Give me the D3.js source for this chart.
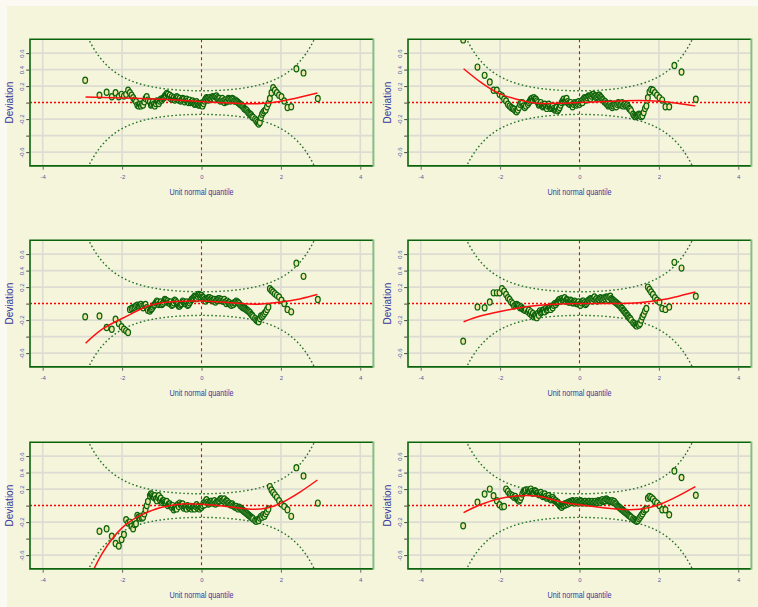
<!DOCTYPE html>
<html>
<head>
<meta charset="utf-8">
<script src="https://cdn.jsdelivr.net/npm/d3@7"></script>
<style>
  html, body { margin: 0; padding: 0; background: #FAFAF3; }
  svg { display: block; }
  text { font-family: "Liberation Sans", Arial, sans-serif; }
</style>
</head>
<body>
<svg id="chart" width="758" height="607"></svg>
<script>
// Unit normal quantiles of the ordered residuals (shared by every panel)
const quantiles = [
  -2.93, -2.57, -2.39, -2.26, -2.165, -2.083, -2.014, -1.953, -1.899, -1.849, -1.804, -1.762, -1.722,
  -1.685, -1.65, -1.617, -1.585, -1.555, -1.526, -1.498, -1.47, -1.44, -1.41, -1.38, -1.35,
  -1.3, -1.275, -1.25, -1.225, -1.2, -1.175, -1.15, -1.125, -1.1, -1.075, -1.05, -1.025, -1, -0.975,
  -0.95, -0.925, -0.9, -0.875, -0.85, -0.825, -0.8, -0.775, -0.75, -0.725, -0.7, -0.675, -0.65, -0.625,
  -0.6, -0.575, -0.55, -0.525, -0.5, -0.475, -0.45, -0.425, -0.4, -0.375, -0.35, -0.325, -0.3, -0.275,
  -0.25, -0.225, -0.2, -0.175, -0.15, -0.125, -0.1, -0.075, -0.05, -0.025, 0, 0.025, 0.05, 0.075, 0.1,
  0.125, 0.15, 0.175, 0.2, 0.225, 0.25, 0.275, 0.3, 0.325, 0.35, 0.375, 0.4, 0.425, 0.45, 0.475, 0.5,
  0.525, 0.55, 0.575, 0.6, 0.625, 0.65, 0.675, 0.7, 0.725, 0.75, 0.775, 0.8, 0.825, 0.85, 0.875, 0.9,
  0.925, 0.95, 0.975, 1, 1.025, 1.05, 1.075, 1.1, 1.125, 1.15, 1.175, 1.2, 1.225, 1.25, 1.275, 1.3,
  1.35, 1.38, 1.41, 1.44, 1.47, 1.498, 1.526, 1.555, 1.585, 1.617, 1.65, 1.685, 1.722,
  1.762, 1.804, 1.849, 1.899, 1.953, 2.014, 2.083, 2.165, 2.26, 2.39, 2.57, 2.93
];

// Deviations (empirical minus theoretical quantile) for each panel
const devPanel1 = [
  0.27, 0.09, 0.125, 0.07, 0.12, 0.07, 0.10, 0.08, 0.10, 0.15, 0.12, 0.09, 0.06, 0.03, 0.01, -0.03, -0.04, -0.02, -0.04, -0.02, -0.03, 0.01, 0.05, 0.07, 0.03,
  0.01, -0.03, -0.02, 0.01, -0.02, -0.04, -0.01, 0.02, 0.01, -0.01, 0.02, 0.04, 0.03, 0.05, 0.06, 0.08, 0.09, 0.11, 0.10, 0.07, 0.09, 0.05,
  0.07, 0.04, 0.06, 0.03, 0.05, 0.07, 0.06, 0.03, 0.05, 0.02, 0.03, 0.05, 0.04, 0.01, 0.03, 0.04, 0.02, 0.00, 0.03, 0.00, 0.01, 0.02,
  0.00, -0.02, -0.01, 0.01, -0.01, -0.03, -0.03, -0.01, -0.03, -0.04, -0.01, 0.02, 0.04, 0.06, 0.05, 0.03, 0.06, 0.04, 0.05, 0.07,
  0.06, 0.04, 0.07, 0.08, 0.06, 0.04, 0.05, 0.02, 0.03, 0.05, 0.02, 0.00, 0.03, 0.01, 0.02, 0.05, 0.04, 0.02, 0.04, 0.05, 0.04, 0.02,
  0.03, 0.02, 0.01, 0.00, -0.01, -0.02, -0.03, -0.04, -0.05, -0.07, -0.08, -0.09, -0.10, -0.12, -0.13, -0.14, -0.15, -0.17, -0.18,
  -0.20, -0.22, -0.24, -0.26, -0.24, -0.18, -0.14, -0.12, -0.10, -0.09, -0.05, -0.01, 0.05, 0.12, 0.18, 0.15, 0.12, 0.09, 0.07, 0.02, -0.06, -0.05, 0.41, 0.36, 0.05
];
const devPanel2 = [
  0.76, 0.43, 0.33, 0.25, 0.15, 0.15, 0.10, 0.08, 0.04, 0.02, -0.02, -0.04, -0.06, -0.07, -0.08, -0.10, -0.11, -0.09, -0.06, -0.02, 0.00, 0.00, -0.04, -0.06, -0.04,
  -0.02, 0.00, 0.02, 0.04, 0.05, 0.03, 0.06, 0.04, 0.04, 0.02, 0.00, -0.03, -0.02, 0.00, -0.03, -0.05, -0.04, -0.02, -0.05, -0.07,
  -0.04, -0.02, -0.05, -0.07, -0.06, -0.04, -0.07, -0.09, -0.08, -0.06, -0.10, -0.08, -0.06, -0.03, 0.00, 0.02, 0.04, 0.01, 0.03, 0.05,
  0.01, -0.01, -0.02, 0.00, -0.03, -0.05, -0.02, 0.00, -0.01, -0.03, -0.01, 0.01, -0.02, 0.00, 0.02, 0.00, 0.04, 0.06, 0.05, 0.03,
  0.06, 0.08, 0.07, 0.05, 0.08, 0.10, 0.10, 0.08, 0.08, 0.06, 0.07, 0.09, 0.09, 0.07, 0.06, 0.04, 0.03, 0.01, 0.01, -0.01, -0.02, -0.04,
  -0.03, -0.01, -0.04, -0.06, -0.04, -0.02, -0.03, -0.05, -0.02, 0.00, -0.01, -0.03, -0.02, 0.00, -0.04, -0.02, -0.02, -0.04, -0.03, -0.05,
  -0.07, -0.08, -0.10,
  -0.14, -0.16, -0.17, -0.16, -0.15, -0.14, -0.15, -0.17, -0.16, -0.12, -0.07, -0.04, 0.06, 0.13, 0.16, 0.15, 0.12, 0.09, 0.06, 0.03, -0.05, -0.05, 0.45, 0.37, 0.04
];
const devPanel3 = [
  -0.16, -0.15, -0.29, -0.31, -0.19, -0.24, -0.28, -0.31, -0.33, -0.35, -0.07, -0.06, -0.05, -0.04, -0.03, -0.02, -0.03, -0.02, -0.01, -0.03, -0.05, -0.02, -0.01, -0.05, -0.08,
  -0.09, -0.07, -0.06, -0.04, -0.02, -0.01, 0.01, 0.03, 0.02, -0.01, 0.00, 0.02, -0.01, 0.00, 0.02, 0.05, 0.04, 0.02, 0.03, 0.01,
  0.00, 0.02, -0.02, -0.01, 0.01, 0.04, 0.03, 0.01, -0.01, -0.03, -0.03, -0.01, 0.00, 0.03, 0.02, 0.00, 0.00, 0.02, -0.02, -0.01,
  0.01, 0.03, 0.05, 0.06, 0.07, 0.09, 0.08, 0.06, 0.09, 0.11, 0.10, 0.08, 0.10, 0.08, 0.07, 0.05, 0.03, 0.06, 0.05, 0.07,
  0.07, 0.05, 0.06, 0.04, 0.03, 0.05, 0.02, 0.04, 0.04, 0.06, 0.06, 0.04, 0.05, 0.03, 0.03, 0.05, 0.02, 0.00, 0.03, 0.01, 0.01, -0.01,
  -0.02, 0.00, -0.01, 0.01, 0.01, 0.03, 0.02, 0.01, 0.00, -0.02, -0.03, -0.04, -0.05, -0.05, -0.06, -0.07, -0.08, -0.09, -0.10, -0.11,
  -0.13, -0.14, -0.16,
  -0.18, -0.20, -0.21, -0.22, -0.18, -0.15, -0.16, -0.14, -0.12, -0.10, -0.07, -0.04, 0.18, 0.16, 0.14, 0.12, 0.10, 0.08, 0.04, 0.00, -0.07, -0.10, 0.49, 0.33, 0.05
];
const devPanel4 = [
  -0.455, -0.04, -0.05, 0.02, 0.13, 0.13, 0.13, 0.18, 0.15, 0.11, 0.07, 0.05, 0.02, 0.00, -0.03, -0.02, -0.01, -0.02, -0.03, -0.05, -0.04, -0.06, -0.07, -0.08, -0.07,
  -0.10, -0.08, -0.12, -0.10, -0.14, -0.12, -0.16, -0.14, -0.15, -0.17, -0.12, -0.14, -0.09, -0.11, -0.10, -0.08, -0.08, -0.10, -0.06, -0.08,
  -0.07, -0.05, -0.05, -0.07, -0.03, -0.05, -0.02, 0.00, -0.01, 0.01, 0.02, 0.04, 0.05, 0.03, 0.06, 0.04, 0.05, 0.07, 0.03, 0.05,
  0.04, 0.02, 0.02, 0.04, 0.03, 0.01, 0.01, 0.03, 0.02, 0.00, 0.00, 0.02, -0.01, -0.02, 0.01, 0.03, 0.03, 0.01, -0.01, 0.00,
  0.02, 0.04, 0.04, 0.06, 0.05, 0.03, 0.06, 0.08, 0.04, 0.06, 0.03, 0.05, 0.05, 0.07, 0.06, 0.04, 0.05, 0.07, 0.06, 0.08, 0.07, 0.05,
  0.08, 0.09, 0.06, 0.05, 0.04, 0.03, 0.02, 0.01, 0.00, -0.01, -0.02, -0.03, -0.05, -0.06, -0.08, -0.09, -0.11, -0.12, -0.14, -0.15,
  -0.17, -0.18, -0.20,
  -0.23, -0.24, -0.26, -0.27, -0.25, -0.26, -0.24, -0.20, -0.16, -0.13, -0.09, -0.06, 0.20, 0.17, 0.14, 0.11, 0.07, 0.04, 0.02, -0.06, -0.07, -0.04, 0.50, 0.43, 0.09
];
const devPanel5 = [
  -0.85, -0.31, -0.28, -0.37, -0.46, -0.49, -0.41, -0.35, -0.17, -0.21, -0.20, -0.25, -0.28, -0.23, -0.22, -0.12, -0.14, -0.15, -0.13, -0.15, -0.14, -0.10, -0.05, 0.00, 0.05,
  0.12, 0.14, 0.13, 0.11, 0.10, 0.12, 0.08, 0.06, 0.10, 0.12, 0.07, 0.09, 0.04, 0.06, 0.06, 0.04, 0.03, 0.05, 0.00, 0.02,
  0.02, 0.00, -0.02, 0.00, -0.05, -0.03, -0.02, -0.04, 0.01, -0.01, 0.03, 0.01, 0.00, 0.02, -0.03, -0.01, -0.02, -0.04, 0.00, -0.02,
  -0.03, -0.01, -0.04, -0.02, -0.02, -0.04, -0.01, 0.01, -0.03, -0.01, -0.04, -0.02, -0.02, 0.00, 0.03, 0.01, 0.05, 0.07, 0.04, 0.02,
  0.03, 0.05, 0.05, 0.03, 0.04, 0.06, 0.02, 0.04, 0.03, 0.05, 0.06, 0.08, 0.08, 0.06, 0.06, 0.08, 0.04, 0.06, 0.05, 0.03, 0.03, 0.01,
  0.01, 0.02, 0.00, -0.01, -0.02, -0.01, -0.03, -0.04, -0.02, -0.03, -0.04, -0.05, -0.06, -0.07, -0.08, -0.09, -0.10, -0.11, -0.12, -0.13,
  -0.14, -0.15, -0.16,
  -0.18, -0.19, -0.17, -0.18, -0.15, -0.13, -0.14, -0.11, -0.13, -0.10, -0.07, -0.04, 0.23, 0.19, 0.16, 0.13, 0.10, 0.06, 0.02, -0.01, -0.05, -0.13, 0.46, 0.36, 0.03
];
const devPanel6 = [
  -0.245, 0.04, 0.14, 0.20, 0.12, 0.06, 0.01, -0.015, -0.01, 0.20, 0.17, 0.14, 0.13, 0.12, 0.10, 0.11, 0.085, 0.07, 0.056, 0.07, 0.10, 0.14, 0.17, 0.18, 0.19,
  0.19, 0.17, 0.18, 0.20, 0.17, 0.15, 0.16, 0.18, 0.17, 0.15, 0.15, 0.13, 0.14, 0.16, 0.13, 0.11, 0.12, 0.14, 0.11, 0.09,
  0.10, 0.12, 0.09, 0.07, 0.08, 0.10, 0.08, 0.06, 0.06, 0.04, 0.04, 0.02, 0.00, -0.01, -0.02, 0.00, 0.00, 0.02, 0.01, 0.03,
  0.02, 0.04, 0.03, 0.05, 0.04, 0.06, 0.05, 0.03, 0.05, 0.06, 0.04, 0.03, 0.05, 0.06, 0.05, 0.03, 0.04, 0.05, 0.05, 0.03,
  0.04, 0.05, 0.05, 0.03, 0.04, 0.05, 0.03, 0.04, 0.05, 0.03, 0.04, 0.06, 0.05, 0.04, 0.06, 0.07, 0.05, 0.06, 0.06, 0.08, 0.07, 0.06,
  0.06, 0.05, 0.05, 0.06, 0.04, 0.05, 0.03, 0.02, 0.00, -0.01, -0.02, -0.03, -0.04, -0.05, -0.06, -0.07, -0.08, -0.09, -0.10, -0.11,
  -0.12, -0.13, -0.14,
  -0.16, -0.17, -0.18, -0.19, -0.18, -0.16, -0.14, -0.12, -0.10, -0.07, -0.05, -0.04, 0.09, 0.11, 0.10, 0.08, 0.05, 0.03, 0.00, -0.05, -0.05, -0.11, 0.42, 0.34, 0.125
];

// Fitted worm curve, [quantile, deviation] knots per panel
const fitPanel1 = [[-2.92, 0.068], [-2, 0.056], [-1, 0.04], [0, 0.012], [1, -0.012], [1.5, -0.012], [2, 0.016], [2.5, 0.068], [2.92, 0.117]];
const fitPanel2 = [[-2.92, 0.41], [-2.5, 0.25], [-2, 0.105], [-1.5, 0.03], [-1, -0.01], [0, 0.0], [1, 0.02], [1.5, 0.025], [2, 0.016], [2.5, -0.01], [2.92, -0.04]];
const fitPanel3 = [[-2.92, -0.48], [-2.5, -0.31], [-2, -0.18], [-1.5, -0.06], [-1, 0.01], [0, 0.03], [1, 0.0], [1.5, -0.005], [2, 0.02], [2.5, 0.06], [2.92, 0.11]];
const fitPanel4 = [[-2.92, -0.22], [-2.5, -0.15], [-2, -0.095], [-1.5, -0.05], [-1, -0.02], [0, 0.0], [1, 0.0], [1.5, 0.01], [2, 0.04], [2.5, 0.09], [2.92, 0.14]];
const fitPanel5 = [[-2.92, -0.98], [-2.5, -0.58], [-2, -0.27], [-1.5, -0.11], [-1, -0.02], [-0.5, 0.02], [0, 0.015], [0.8, -0.02], [1.3, -0.045], [1.65, -0.03], [2, 0.03], [2.5, 0.17], [2.92, 0.31]];
const fitPanel6 = [[-2.92, -0.085], [-2.5, 0.01], [-2, 0.085], [-1.5, 0.12], [-1, 0.11], [-0.5, 0.05], [0, 0.01], [0.5, -0.02], [1, -0.045], [1.5, -0.045], [2, 0.01], [2.5, 0.12], [2.92, 0.23]];

// Axis ticks
const xTicks = [-4, -2, 0, 2, 4];
const yTicks = [-0.6, -0.4, -0.2, 0, 0.2, 0.4, 0.6];
const yTickLabels = ["-0.6", "", "-0.2", "", "0.2", "0.4", "0.6"];

// Reference band settings
const sampleSize = 295;
const bandLevel = 0.95;

// ---- layout ----
const svg = d3.select("#chart");
svg.append("rect").attr("x", 7).attr("y", 6).attr("width", 751).attr("height", 601).attr("fill", "#F5F5DC");

const panelLeft = [30, 408];
const panelTop = [39.3, 240.3, 442.3];
const W = 343, H = 126.6;
const xDomain = [-4.32, 4.32];
const yDomain = [-0.767, 0.767];

const panels = [
  { dev: devPanel1, fit: fitPanel1 },
  { dev: devPanel2, fit: fitPanel2 },
  { dev: devPanel3, fit: fitPanel3 },
  { dev: devPanel4, fit: fitPanel4 },
  { dev: devPanel5, fit: fitPanel5 },
  { dev: devPanel6, fit: fitPanel6 }
];

// normal distribution helpers for the confidence band
function erf(v) {
  const t = 1 / (1 + 0.3275911 * Math.abs(v));
  const r = 1 - (((((1.061405429 * t - 1.453152027) * t) + 1.421413741) * t - 0.284496736) * t + 0.254829592) * t * Math.exp(-v * v);
  return v >= 0 ? r : -r;
}
const pnorm = z => 0.5 * (1 + erf(z / Math.SQRT2));
const dnorm = z => Math.exp(-z * z / 2) / Math.sqrt(2 * Math.PI);
const zCrit = 1.959964; // two-sided critical value for bandLevel

const bandZ = d3.range(-4.32, 4.33, 0.02);
const bandHalf = bandZ.map(z => {
  const p = pnorm(z);
  return zCrit * Math.sqrt(p * (1 - p) / sampleSize) / dnorm(z);
});

const GREEN = "#0B640B";
const GRID = "#DCDCD2";
const TICKTEXT = "#5555A8";
const TITLETEXT = "#35359E";

panels.forEach((panel, i) => {
  const col = i % 2, row = Math.floor(i / 2);
  const g = svg.append("g").attr("transform", `translate(${panelLeft[col]},${panelTop[row]})`);
  const x = d3.scaleLinear().domain(xDomain).range([0, W]);
  const y = d3.scaleLinear().domain(yDomain).range([H, 0]);

  const clipId = "clip" + i;
  g.append("clipPath").attr("id", clipId).append("rect").attr("width", W).attr("height", H);
  const plot = g.append("g").attr("clip-path", `url(#${clipId})`);

  // grid
  plot.selectAll("line.hgrid").data(yTicks.filter(d => d !== 0)).join("line")
    .attr("class", "hgrid").attr("x1", 0).attr("x2", W)
    .attr("y1", d => y(d)).attr("y2", d => y(d))
    .attr("stroke", GRID).attr("stroke-width", 1.6);
  plot.selectAll("line.vgrid").data(xTicks.filter(d => d !== 0)).join("line")
    .attr("class", "vgrid").attr("y1", 0).attr("y2", H)
    .attr("x1", d => x(d)).attr("x2", d => x(d))
    .attr("stroke", GRID).attr("stroke-width", 1.6);

  // 95% reference band
  [1, -1].forEach(sign => {
    const band = d3.line().x((d, k) => x(bandZ[k])).y(d => y(sign * d));
    plot.append("path").attr("d", band(bandHalf))
      .attr("fill", "none").attr("stroke", "#267326").attr("stroke-width", 1.4)
      .attr("stroke-dasharray", "1.6,2.4");
  });

  // zero reference lines
  plot.append("line").attr("x1", 0).attr("x2", W).attr("y1", y(0)).attr("y2", y(0))
    .attr("stroke", "#FF0000").attr("stroke-width", 1.5).attr("stroke-dasharray", "2,2");
  plot.append("line").attr("x1", x(0)).attr("x2", x(0)).attr("y1", 0).attr("y2", H)
    .attr("stroke", "#FF0000").attr("stroke-width", 1.1).attr("stroke-dasharray", "3,3");

  // points
  plot.selectAll("ellipse.pt").data(d3.zip(quantiles, panel.dev)).join("ellipse")
    .attr("class", "pt")
    .attr("cx", d => x(d[0])).attr("cy", d => y(d[1]))
    .attr("rx", 2.4).attr("ry", 3.1)
    .attr("fill", "#EDE6A6").attr("stroke", GREEN).attr("stroke-width", 1.2);

  // fitted curve
  const fitLine = d3.line().x(d => x(d[0])).y(d => y(d[1])).curve(d3.curveNatural);
  plot.append("path").attr("d", fitLine(panel.fit))
    .attr("fill", "none").attr("stroke", "#FF1010").attr("stroke-width", 1.5);

  // frame
  g.append("path").attr("d", `M${W},0 H0 V${H} H${W}`)
    .attr("fill", "none").attr("stroke", GREEN).attr("stroke-width", 1.6);
  g.append("line").attr("x1", W + 0.4).attr("x2", W + 0.4).attr("y1", -0.8).attr("y2", H + 0.8)
    .attr("stroke", "#86BC86").attr("stroke-width", 2);

  // x axis
  const xAxis = g.append("g").attr("transform", `translate(0,${H + 0.8})`)
    .call(d3.axisBottom(x).tickValues(xTicks).tickSize(3).tickFormat(d3.format("d")));
  xAxis.select(".domain").remove();
  xAxis.selectAll(".tick line").attr("stroke", "#666").attr("stroke-width", 1);
  xAxis.selectAll(".tick text").attr("y", 12.7).attr("dy", null)
    .attr("fill", TICKTEXT).style("font-size", "6px")
    .text(d => d < 0 ? "-" + Math.abs(d) : String(d));

  // y axis
  const yAxis = g.append("g").attr("transform", "translate(-0.8,0)")
    .call(d3.axisLeft(y).tickValues(yTicks).tickSize(3)
      .tickFormat((d, k) => yTickLabels[k]));
  yAxis.select(".domain").remove();
  yAxis.selectAll(".tick line").attr("stroke", "#444").attr("stroke-width", 1);
  yAxis.selectAll(".tick text").attr("x", null).attr("dy", null)
    .attr("text-anchor", "middle").attr("transform", "translate(-5.6,0) rotate(-90)")
    .attr("fill", TICKTEXT).style("font-size", "6px");

  // axis titles
  g.append("text").attr("x", W / 2).attr("y", H + 29.5)
    .attr("text-anchor", "middle").attr("fill", TITLETEXT).style("font-size", "9px")
    .attr("textLength", 64).attr("lengthAdjust", "spacingAndGlyphs")
    .text("Unit normal quantile");
  g.append("text").attr("transform", `translate(-17.5,${H / 2}) rotate(-90)`)
    .attr("text-anchor", "middle").attr("fill", TITLETEXT).style("font-size", "10px")
    .text("Deviation");
});
</script>
</body>
</html>
